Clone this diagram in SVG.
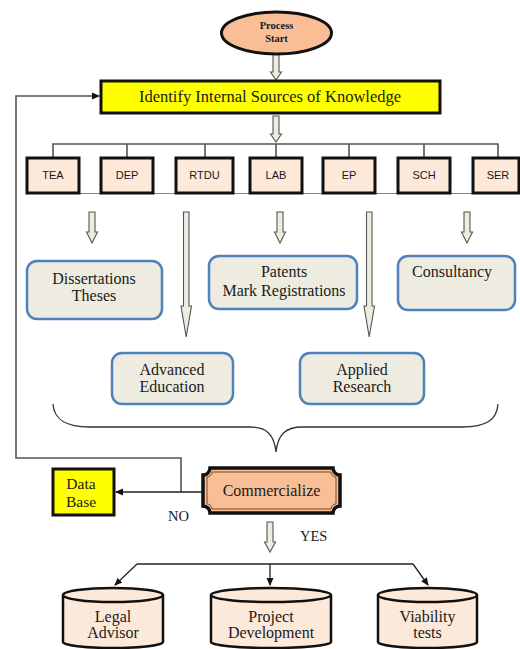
<svg xmlns="http://www.w3.org/2000/svg" width="520" height="649" viewBox="0 0 520 649">
<style>
.serif{font-family:"Liberation Serif","Times New Roman",serif;fill:#1a1a1a}
.sans{font-family:"Liberation Sans",Arial,sans-serif;font-size:11px;fill:#1a1a1a}
.hol{fill:#EEECE1;stroke:#555;stroke-width:1.1}
.ln{fill:none;stroke:#555;stroke-width:1.6}
.blk{fill:none;stroke:#222;stroke-width:1.3}
.unit{fill:#FDE9D9;stroke:#111;stroke-width:3}
.out{fill:#EEECE1;stroke:#4F81BD;stroke-width:2.5}
.cyl{fill:#FDE9D9;stroke:#111;stroke-width:2.5}
.yel{fill:#FFFF00;stroke:#111;stroke-width:3}
</style>
<defs>
<marker id="ah" markerWidth="8" markerHeight="8" refX="7" refY="4" orient="auto" markerUnits="userSpaceOnUse">
<path d="M0,0.5 L8,4 L0,7.5 Z" fill="#111"/>
</marker>
</defs>

<g id="connectors">
<path class="hol" d="M273,54 H279 V72 H281.5 L276,80 L270.5,72 H273 Z"/>
<path class="hol" d="M273,116 H279 V134 H281.5 L276,142 L270.5,134 H273 Z"/>
<path class="hol" d="M89,212 H95 V232 H97.5 L92,243 L86.5,232 H89 Z"/>
<path class="hol" d="M277,212 H283 V232 H285.5 L280,243 L274.5,232 H277 Z"/>
<path class="hol" d="M464,212 H470 V232 H472.5 L467,243 L461.5,232 H464 Z"/>
<path class="hol" d="M183.5,212 H189 V306 H191.5 L186.2,337 L181,306 H183.5 Z"/>
<path class="hol" d="M366.5,212 H372 V306 H374.5 L369.2,337 L364,306 H366.5 Z"/>
<path class="hol" d="M267,522 H273 V542 H275.5 L270,552 L264.5,542 H267 Z"/>
<path class="ln" d="M53,158 V144 H498 V158 M127,144 V158 M205,144 V158 M276,144 V158 M349,144 V158 M424,144 V158"/>
<path d="M27,193.5 H520" stroke="#888" stroke-width="1.2" fill="none"/>
<path d="M53,404 C54,420 66,427 90,427 H250 C266,427 274,434 276,452 C278,434 286,427 302,427 H462 C486,427 497,420 498,404" fill="none" stroke="#333" stroke-width="1.3"/>
<path class="ln" d="M181,492 V458 H16 V96 H99" marker-end="url(#ah)"/>
<path class="blk" d="M203,492 H116" marker-end="url(#ah)"/>
<path class="blk" d="M137,564 H413"/>
<path class="blk" d="M137,564 L115,585" marker-end="url(#ah)"/>
<path class="blk" d="M270,564 V585" marker-end="url(#ah)"/>
<path class="blk" d="M413,564 L428,585" marker-end="url(#ah)"/>
</g>

<g id="start">
<ellipse cx="276.5" cy="33" rx="55" ry="21" fill="#F9BE96" stroke="#111" stroke-width="3"/>
<text class="serif" x="276.5" y="29" text-anchor="middle" font-weight="bold" font-size="10.5">Process</text>
<text class="serif" x="276.5" y="42" text-anchor="middle" font-weight="bold" font-size="10.5">Start</text>
</g>

<g id="identify">
<rect class="yel" x="101" y="81" width="339" height="32"/>
<text class="serif" x="270" y="102" text-anchor="middle" font-size="16.5">Identify Internal Sources of Knowledge</text>
</g>

<g id="TEA"><rect class="unit" x="27" y="158" width="52" height="35"/><text class="sans" x="53" y="179" text-anchor="middle">TEA</text></g>
<g id="DEP"><rect class="unit" x="101" y="158" width="52" height="35"/><text class="sans" x="127" y="179" text-anchor="middle">DEP</text></g>
<g id="RTDU"><rect class="unit" x="176" y="158" width="57" height="35"/><text class="sans" x="204.5" y="179" text-anchor="middle">RTDU</text></g>
<g id="LAB"><rect class="unit" x="250" y="158" width="52" height="35"/><text class="sans" x="276" y="179" text-anchor="middle">LAB</text></g>
<g id="EP"><rect class="unit" x="323" y="158" width="52" height="35"/><text class="sans" x="349" y="179" text-anchor="middle">EP</text></g>
<g id="SCH"><rect class="unit" x="398" y="158" width="52" height="35"/><text class="sans" x="424" y="179" text-anchor="middle">SCH</text></g>
<g id="SER"><rect class="unit" x="473" y="158" width="46" height="35"/><text class="sans" x="498" y="179" text-anchor="middle">SER</text></g>

<g id="dissertations">
<rect class="out" x="27" y="261" width="135" height="58" rx="10"/>
<text class="serif" x="94" y="284" text-anchor="middle" font-size="16">Dissertations</text>
<text class="serif" x="94" y="301" text-anchor="middle" font-size="16">Theses</text>
</g>
<g id="patents">
<rect class="out" x="209" y="256" width="148" height="53" rx="10"/>
<text class="serif" x="284" y="277" text-anchor="middle" font-size="16">Patents</text>
<text class="serif" x="284" y="296" text-anchor="middle" font-size="16">Mark Registrations</text>
</g>
<g id="consultancy">
<rect class="out" x="398" y="256" width="117" height="54" rx="10"/>
<text class="serif" x="452" y="277" text-anchor="middle" font-size="16">Consultancy</text>
</g>
<g id="advanced">
<rect class="out" x="112" y="353" width="121" height="51" rx="10"/>
<text class="serif" x="172" y="375" text-anchor="middle" font-size="16">Advanced</text>
<text class="serif" x="172" y="392" text-anchor="middle" font-size="16">Education</text>
</g>
<g id="applied">
<rect class="out" x="300" y="353" width="124" height="51" rx="10"/>
<text class="serif" x="362" y="375" text-anchor="middle" font-size="16">Applied</text>
<text class="serif" x="362" y="392" text-anchor="middle" font-size="16">Research</text>
</g>

<g id="commercialize">
<path d="M210,468 H333 A7,7 0 0 0 340,475 V506 A7,7 0 0 0 333,513 H210 A7,7 0 0 0 203,506 V475 A7,7 0 0 0 210,468 Z" fill="#F9BE96" stroke="#111" stroke-width="3.5"/>
<path d="M212,472 H331 A5,5 0 0 0 336,477 V504 A5,5 0 0 0 331,509 H212 A5,5 0 0 0 207,504 V477 A5,5 0 0 0 212,472 Z" fill="none" stroke="#7A4A2A" stroke-width="1"/>
<text class="serif" x="271.5" y="496" text-anchor="middle" font-size="16">Commercialize</text>
</g>

<g id="database">
<rect class="yel" x="53" y="469" width="61" height="46"/>
<text class="serif" x="81" y="489" text-anchor="middle" font-size="15.5">Data</text>
<text class="serif" x="81" y="507" text-anchor="middle" font-size="15.5">Base</text>
</g>

<g id="labels">
<text class="serif" x="168" y="521" font-size="14.5">NO</text>
<text class="serif" x="300" y="541" font-size="14.5">YES</text>
</g>

<g id="legal">
<path class="cyl" d="M63,595 V642 A50,6 0 0 0 163,642 V595"/>
<ellipse class="cyl" cx="113" cy="595" rx="50" ry="7"/>
<text class="serif" x="113" y="622" text-anchor="middle" font-size="16">Legal</text>
<text class="serif" x="113" y="638" text-anchor="middle" font-size="16">Advisor</text>
</g>
<g id="project">
<path class="cyl" d="M211,595 V642 A60,6 0 0 0 331,642 V595"/>
<ellipse class="cyl" cx="271" cy="595" rx="60" ry="7"/>
<text class="serif" x="271" y="622" text-anchor="middle" font-size="16">Project</text>
<text class="serif" x="271" y="638" text-anchor="middle" font-size="16">Development</text>
</g>
<g id="viability">
<path class="cyl" d="M378,595 V642 A49.5,6 0 0 0 477,642 V595"/>
<ellipse class="cyl" cx="427.5" cy="595" rx="49.5" ry="7"/>
<text class="serif" x="427.5" y="622" text-anchor="middle" font-size="16">Viability</text>
<text class="serif" x="427.5" y="638" text-anchor="middle" font-size="16">tests</text>
</g>
</svg>
